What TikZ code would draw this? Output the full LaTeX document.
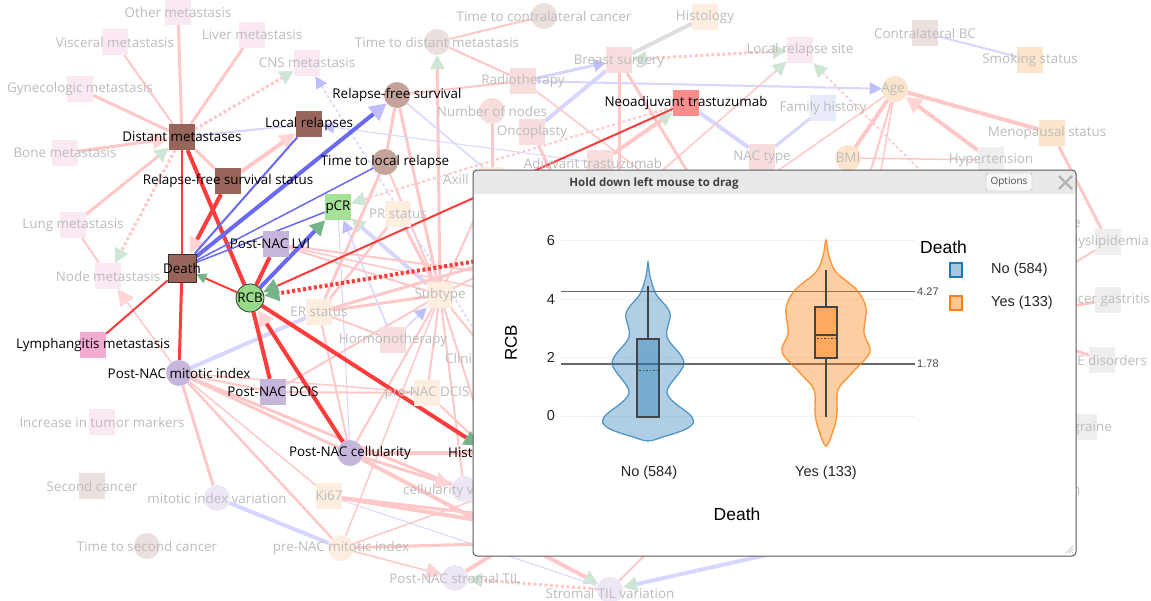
\documentclass[tikz,border=0pt]{standalone}
\usepackage{fontspec}
\setmainfont{Open Sans}
\newfontfamily\plotfont{Liberation Sans}
\usetikzlibrary{arrows.meta,positioning}

\definecolor{brA}{RGB}{152,101,90}
\definecolor{brB}{RGB}{196,163,155}
\definecolor{grA}{RGB}{166,226,150}
\definecolor{grB}{RGB}{150,218,135}
\definecolor{lavA}{RGB}{198,182,220}
\definecolor{pkA}{RGB}{242,172,210}
\definecolor{rdA}{RGB}{250,140,140}
\definecolor{metF}{RGB}{250,232,243}
\definecolor{peF}{RGB}{253,238,224}
\definecolor{lavF}{RGB}{236,230,245}
\definecolor{brF}{RGB}{234,224,222}
\definecolor{rdF}{RGB}{248,221,221}
\definecolor{blF}{RGB}{232,236,250}
\definecolor{gyF}{RGB}{238,238,238}
\definecolor{orF}{RGB}{253,229,205}
\definecolor{txtF}{RGB}{188,188,188}
\definecolor{sRed}{RGB}{255,60,60}
\definecolor{sBlue}{RGB}{105,105,245}
\definecolor{fRed}{RGB}{255,200,200}
\definecolor{fBlue}{RGB}{214,214,255}
\definecolor{fGray}{RGB}{222,222,222}
\definecolor{gDark}{RGB}{118,178,138}
\definecolor{gPale}{RGB}{208,230,212}
\definecolor{pPale}{RGB}{255,212,212}
\definecolor{bPale}{RGB}{190,190,255}
\definecolor{plotBlue}{RGB}{31,119,180}
\definecolor{plotOrange}{RGB}{255,127,14}
\definecolor{boxLine}{RGB}{68,68,68}

\pgfdeclarelayer{edgelayer}
\pgfdeclarelayer{winlayer}
\pgfsetlayers{edgelayer,main,winlayer}

\tikzset{
  sq/.style={rectangle,minimum size=26pt,inner sep=0pt},
  ci/.style={circle,minimum size=26pt,inner sep=0pt},
  act/.style={font=\fontsize{13.4}{15}\selectfont,text=black,inner sep=0pt},
  fad/.style={font=\fontsize{13.4}{15}\selectfont,text=txtF,inner sep=0pt},
  sred/.style={draw=sRed},
  sblue/.style={draw=sBlue},
  fred/.style={draw=fRed},
  fblue/.style={draw=fBlue},
  dotline/.style={dash pattern=on 3pt off 2.5pt},
  ga/.style={-{Triangle[length=14pt,width=14pt,color=gPale]}},
  gboth/.style={{Triangle[length=14pt,width=14pt,color=gPale]}-{Triangle[length=14pt,width=14pt,color=gPale]}},
  gd/.style={-{Triangle[length=15pt,width=15pt,color=gDark]}},
  pa/.style={-{Triangle[length=16pt,width=16pt,color=pPale]}},
  ba/.style={-{Triangle[length=12pt,width=12pt,color=bPale]}},
  ticklab/.style={font=\plotfont\fontsize{14.5}{16}\selectfont,text=black!85,inner sep=0pt},
}

\begin{document}
\begin{tikzpicture}[x=1pt,y=-1pt]
\useasboundingbox (0,0) rectangle (1151,600);

% nodes in focus
\node[sq,fill=brA] (distmet) at (182,137) [label={[act]center:Distant metastases}] {};
\node[sq,fill=brA] (locrel) at (309,124) [label={[act]center:Local relapses}] {};
\node[sq,fill=brA] (rfss) at (228,181) [label={[act]center:Relapse-free survival status}] {};
\node[ci,fill=brB] (rfs) at (397,95) [label={[act]center:Relapse-free survival}] {};
\node[ci,fill=brB] (ttlr) at (385,162) [label={[act]center:Time to local relapse}] {};
\node[sq,fill=grA] (pcr) at (338,207) [label={[act]center:pCR}] {};
\node[sq,fill=brA,draw=black!80,thick,minimum size=28pt] (death) at (182,268) [label={[act]center:Death}] {};
\node[ci,fill=grB,draw=black!80,thick,minimum size=28pt] (rcb) at (250,298) [label={[act]center:RCB}] {};
\node[sq,fill=lavA] (lvi) at (276,244) [label={[act,xshift=-6pt]center:Post-NAC LVI}] {};
\node[sq,fill=pkA] (lymph) at (93,345) [label={[act]center:Lymphangitis metastasis}] {};
\node[ci,fill=lavA] (pnmi) at (179,373) [label={[act]center:Post-NAC mitotic index}] {};
\node[sq,fill=lavA] (dcis) at (273,392) [label={[act]center:Post-NAC DCIS}] {};
\node[ci,fill=lavA] (pncell) at (350,453) [label={[act]center:Post-NAC cellularity}] {};
\node[sq,fill=rdA] (neotz) at (686,103) [label={[act]center:Neoadjuvant trastuzumab}] {};
\node[ci,fill=lavA] (hist) at (490,453) {};
\node[act,anchor=west] (histtxt) at (448,453) {Hist};
\node[sq,fill=peF] (nhid) at (520,254) {};

% faded nodes
\node[sq,fill=metF] (othmet) at (178,12) [label={[fad]center:Other metastasis}] {};
\node[sq,fill=metF] (viscmet) at (115,42) [label={[fad]center:Visceral metastasis}] {};
\node[sq,fill=metF] (livmet) at (252,35) [label={[fad]center:Liver metastasis}] {};
\node[sq,fill=metF] (cnsmet) at (307,63) [label={[fad]center:CNS metastasis}] {};
\node[sq,fill=metF] (gynmet) at (80,89) [label={[fad]center:Gynecologic metastasis}] {};
\node[sq,fill=metF] (bonemet) at (65,153) [label={[fad]center:Bone metastasis}] {};
\node[sq,fill=metF] (lungmet) at (73,225) [label={[fad]center:Lung metastasis}] {};
\node[sq,fill=metF] (nodemet) at (108,276) [label={[fad]center:Node metastasis}] {};
\node[sq,fill=metF] (tumark) at (102,422) [label={[fad]center:Increase in tumor markers}] {};
\node[sq,fill=brF] (seccan) at (92,486) [label={[fad]center:Second cancer}] {};
\node[ci,fill=lavF] (mivar) at (217,498) [label={[fad]center:mitotic index variation}] {};
\node[ci,fill=brF] (ttsc) at (147,546) [label={[fad]center:Time to second cancer}] {};
\node[sq,fill=peF] (ki67) at (329,496) [label={[fad]center:Ki67}] {};
\node[ci,fill=peF] (prenmi) at (341,548) [label={[fad]center:pre-NAC mitotic index}] {};
\node[ci,fill=lavF] (pnstil) at (455,578) [label={[fad]center:Post-NAC stromal TIL}] {};
\node[ci,fill=lavF] (stilvar) at (610,590) [label={[fad,yshift=-3pt]center:Stromal TIL variation}] {};
\node[ci,fill=lavF] (cellvar) at (464,489) {};
\node[fad,anchor=west] (cellvartxt) at (403,491) {cellularity variation};
\node[sq,fill=peF] (prendcis) at (427,393) [label={[fad]center:pre-NAC DCIS}] {};
\node[sq,fill=rdF] (hormo) at (393,340) [label={[fad]center:Hormonotherapy}] {};
\node[sq,fill=peF] (erst) at (319,312) [label={[fad]center:ER status}] {};
\node[sq,fill=peF] (subtype) at (440,295) [label={[fad]center:Subtype}] {};
\node[sq,fill=peF] (prst) at (398,214) [label={[fad]center:PR status}] {};
\node[sq,fill=peF] (clin) at (492,358) {};
\node[fad,anchor=west] (clintxt) at (445,358) {Clini};
\node[sq,fill=peF] (axil) at (492,180) {};
\node[fad,anchor=west] (axiltxt) at (443,179) {Axill};
\node[ci,fill=brF] (ttdm) at (437,42) [label={[fad]center:Time to distant metastasis}] {};
\node[ci,fill=brF] (ttcc) at (544,16) [label={[fad]center:Time to contralateral cancer}] {};
\node[sq,fill=peF] (histology) at (705,17) [label={[fad]center:Histology}] {};
\node[sq,fill=rdF] (breastsurg) at (619,60) [label={[fad,yshift=-1pt]center:Breast surgery}] {};
\node[sq,fill=rdF] (radio) at (523,81) [label={[fad]center:Radiotherapy}] {};
\node[ci,fill=rdF] (nnodes) at (492,111) [label={[fad]center:Number of nodes}] {};
\node[sq,fill=rdF] (oncop) at (532,132) [label={[fad]center:Oncoplasty}] {};
\node[sq,fill=rdF] (adjtz) at (600,163) [label={[fad,xshift=-7pt,yshift=-2pt]center:Adjuvant trastuzumab}] {};
\node[sq,fill=metF] (locsite) at (800,50) [label={[fad]center:Local relapse site}] {};
\node[sq,fill=brF] (contbc) at (925,33) [label={[fad]center:Contralateral BC}] {};
\node[sq,fill=orF] (smoke) at (1030,60) [label={[fad]center:Smoking status}] {};
\node[ci,fill=orF] (age) at (895,89) [label={[fad,xshift=-2pt]center:Age}] {};
\node[sq,fill=blF] (famhist) at (823,108) [label={[fad]center:Family history}] {};
\node[sq,fill=rdF] (nactype) at (762,157) [label={[fad]center:NAC type}] {};
\node[ci,fill=orF] (bmi) at (848,158) [label={[fad]center:BMI}] {};
\node[sq,fill=gyF] (hyper) at (991,160) [label={[fad]center:Hypertension}] {};
\node[sq,fill=orF] (menop) at (1052,133) [label={[fad,xshift=-5pt]center:Menopausal status}] {};
\node[sq,fill=gyF] (dyslip) at (1108,242) {};
\node[fad,anchor=east] (dysliptxt) at (1149,242) {Dyslipidemia};
\node[sq,fill=gyF] (ulcer) at (1108,300) {};
\node[fad,anchor=east] (ulcertxt) at (1150,300) {Ulcer gastritis};
\node[sq,fill=gyF] (edis) at (1102,360) {};
\node[fad,anchor=west] (editxt) at (1077,360) {E disorders};
\node[sq,fill=gyF] (migraine) at (1084,427) {};
\node[fad,anchor=east] (migrainetxt) at (1112,428) {Migraine};
\node[fad,anchor=west] (etxt) at (1073,224) {e};
\node[fad,anchor=west] (ntxt) at (1072,491) {n};

% loose ends that run under the plot window
\coordinate (wk1) at (600,540);
\coordinate (wk2) at (600,528);
\coordinate (wp1) at (620,540);
\coordinate (wp2) at (600,455);
\coordinate (ws1) at (540,525);
\coordinate (ws2) at (780,552);
\coordinate (ws3) at (660,540);
\coordinate (wr1) at (540,215);
\coordinate (wl1) at (580,285);
\coordinate (wl2) at (580,310);
\coordinate (wb1) at (619,220);
\coordinate (wb2) at (705,200);
\coordinate (wo1) at (565,200);
\coordinate (wn1) at (492,220);
\coordinate (wr2) at (650,178);
\coordinate (wls1) at (640,190);
\coordinate (wls2) at (945,195);
\coordinate (wa1) at (862,200);
\coordinate (wa2) at (876,200);
\coordinate (wa3) at (750,190);
\coordinate (wd1) at (1060,272);
\coordinate (wu1) at (1060,308);
\coordinate (we1) at (1060,345);

\begin{pgfonlayer}{edgelayer}
\fill[white] (0,0) rectangle (1151,600);
% faded edges
\draw[fred,line width=3pt] (distmet) -- (othmet);
\draw[fred,line width=2pt] (distmet) -- (viscmet);
\draw[fred,line width=3pt] (distmet) -- (livmet);
\draw[fred,line width=3pt] (distmet) -- (gynmet);
\draw[fred,line width=3pt,pa] (bonemet) -- (distmet);
\draw[fred,line width=3pt,ga] (lungmet) -- (distmet);
\draw[fred,line width=3pt,dotline,ga] (distmet) -- (cnsmet);
\draw[fred,line width=3pt,dotline,ga] (distmet) -- (nodemet);
\draw[fred,line width=2pt] (lungmet) -- (nodemet);
\draw[fred,line width=3pt] (distmet) -- (rfss);
\draw[fred,line width=4pt,pa] (rfss) -- (locrel);
\draw[fblue,line width=2pt] (distmet) -- (locrel);
\draw[fred,line width=1.5pt,pa] (pnmi) -- (nodemet);
\draw[fred,line width=1.5pt] (pnmi) -- (ki67);
\draw[fblue,line width=4pt] (pnmi) -- (erst);
\draw[fred,line width=3pt] (pnmi) -- (mivar);
\draw[fred,line width=2.5pt] (pnmi) -- (prenmi);
\draw[fred,line width=3pt] (pnmi) -- (pncell);
\draw[fred,line width=2pt] (pnmi) -- (dcis);
\draw[fred,line width=3pt] (pnmi) -- (cellvar);
\draw[fred,line width=1.5pt] (pnmi) -- (prendcis);
\draw[fred,line width=3pt,pa] (pncell) -- (cellvar);
\draw[fred,line width=4pt] (pncell) -- (hist);
\draw[fred,line width=2pt] (pncell) -- (subtype);
\draw[fred,line width=2pt] (pncell) -- (erst);
\draw[fblue,line width=1pt] (pncell) -- (pcr);
\draw[fred,line width=4pt,ga] (pncell) -- (stilvar);
\draw[fred,line width=2pt] (dcis) -- (subtype);
\draw[fred,line width=2pt] (dcis) -- (prendcis);
\draw[fred,line width=4pt] (ki67) -- (wk1);
\draw[fred,line width=3pt] (ki67) -- (wk2);
\draw[fblue,line width=1pt] (ki67) -- (stilvar);
\draw[fblue,line width=4pt] (prenmi) -- (mivar);
\draw[fred,line width=1.5pt,pa] (prenmi) -- (pnstil);
\draw[fred,line width=3pt] (prenmi) -- (wp1);
\draw[fred,line width=1.5pt] (prenmi) -- (wp2);
\draw[fred,line width=1.5pt] (prenmi) -- (subtype);
\draw[fred,line width=4pt] (pnstil) -- (ws1);
\draw[fred,line width=3pt,dotline,ga] (stilvar) -- (pnstil);
\draw[fblue,line width=4pt,ga] (ws2) -- (stilvar);
\draw[fred,line width=2pt] (ws3) -- (stilvar);
\draw[fblue,line width=4pt,ga] (subtype) -- (pcr);
\draw[fred,line width=3pt,ga] (subtype) -- (ttdm);
\draw[fred,line width=3pt] (rfs) -- (ttlr);
\draw[fred,line width=3pt] (rfs) -- (subtype);
\draw[fred,line width=2pt] (rfs) -- (radio);
\draw[fblue,line width=1.5pt] (wr1) -- (rfs);
\draw[fred,line width=2pt] (ttlr) -- (subtype);
\draw[fred,line width=3pt] (erst) -- (ttlr);
\draw[fred,line width=2pt,dotline,ga] (neotz) -- (pcr);
\draw[fred,line width=2pt] (ttdm) -- (ttcc);
\draw[fred,line width=2pt] (ttdm) -- (radio);
\draw[fblue,line width=1.5pt,dotline,ba] (clin) -- (cnsmet);
\draw[fblue,line width=1pt,ba] (adjtz) -- (locrel);
\draw[fred,line width=3pt] (erst) -- (subtype);
\draw[fred,line width=2.5pt] (erst) -- (prst);
\draw[fred,line width=2pt] (erst) -- (hormo);
\draw[fred,line width=3pt] (erst) -- (nhid);
\draw[fblue,line width=1.5pt,ba] (hormo) -- (subtype);
\draw[fblue,line width=1.5pt,ba] (hormo) -- (pcr);
\draw[fred,line width=3pt] (prst) -- (subtype);
\draw[fred,line width=2pt] (lvi) -- (subtype);
\draw[fred,line width=2pt] (lvi) -- (wl1);
\draw[fred,line width=1.5pt] (lvi) -- (wl2);
\draw[fred,line width=2pt] (subtype) -- (clin);
\draw[fred,line width=2pt] (subtype) -- (hist);
\draw[fred,line width=2pt] (subtype) -- (cellvar);
\draw[fred,line width=2pt] (subtype) -- (prendcis);
\draw[fred,line width=2pt] (subtype) -- (nhid);
\draw[fred,line width=2pt] (prendcis) -- (hist);
\draw[fred,line width=2pt] (subtype) -- (axil);
\draw[fblue,line width=3pt,ba] (radio) -- (breastsurg);
\draw[fblue,line width=2pt,ba] (radio) -- (age);
\draw[fblue,line width=4pt] (oncop) -- (breastsurg);
\draw[fGray,line width=4pt] (histology) -- (breastsurg);
\draw[fred,line width=3pt,dotline,gboth] (breastsurg) -- (locsite);
\draw[fred,line width=3pt] (breastsurg) -- (wb1);
\draw[fred,line width=3pt] (breastsurg) -- (wb2);
\draw[fblue,line width=4pt] (neotz) -- (nactype);
\draw[fblue,line width=3pt] (nactype) -- (famhist);
\draw[fred,line width=1.5pt,ga] (wls1) -- (locsite);
\draw[fred,line width=1.5pt,dotline,ga] (wls2) -- (locsite);
\draw[fred,line width=4pt] (age) -- (menop);
\draw[fred,line width=4pt,pa] (hyper) -- (age);
\draw[fred,line width=4pt] (age) -- (bmi);
\draw[fred,line width=2pt] (age) -- (wa1);
\draw[fred,line width=1.5pt] (age) -- (wa2);
\draw[fred,line width=1.5pt] (age) -- (wa3);
\draw[fblue,line width=2pt] (contbc) -- (smoke);
\draw[fred,line width=3pt] (menop) -- (dyslip);
\draw[fred,line width=1.5pt] (bmi) -- (hyper);
\draw[fred,line width=1.5pt] (radio) -- (wr2);
\draw[fred,line width=3pt] (nnodes) -- (wn1);
\draw[fred,line width=3pt] (oncop) -- (wo1);
\draw[fred,line width=4pt,ga] (adjtz) -- (neotz);
\draw[fred,line width=2pt] (wd1) -- (dyslip);
\draw[fred,line width=3pt] (wu1) -- (ulcer);
\draw[fred,line width=3pt] (we1) -- (edis);
% edges of the nodes in focus
\draw[sred,line width=2.5pt] (distmet) -- (death);
\draw[sred,line width=4pt] (distmet) -- (rcb);
\draw[sred,line width=4pt,pa] (rfss) -- (death);
\draw[sred,line width=2pt] (death) -- (lymph);
\draw[sred,line width=3pt] (death) -- (pnmi);
\draw[sred,line width=2pt,-{Triangle[length=10pt,width=10pt,color=gDark]}] (rcb) -- (death);
\draw[sred,line width=4pt] (lvi) -- (rcb);
\draw[sred,line width=4pt] (dcis) -- (rcb);
\draw[sred,line width=4pt,pa] (pncell) -- (rcb);
\draw[sred,line width=4pt,gd] (rcb) -- (hist);
\draw[sred,line width=2pt,gd] (neotz) -- (rcb);
\draw[sred,line width=4pt,dotline,gd] (nhid) -- (rcb);
\draw[sblue,line width=4pt,-{Triangle[length=17pt,width=17pt,color=bPale]}] (death) -- (rfs);
\draw[sblue,line width=2pt] (death) -- (locrel);
\draw[sblue,line width=1.5pt] (death) -- (ttlr);
\draw[sblue,line width=1.5pt] (death) -- (pcr);
\draw[sblue,line width=4pt,gd] (rcb) -- (pcr);
\end{pgfonlayer}

\begin{pgfonlayer}{winlayer}
% plot window
\fill[white,rounded corners=4pt] (473,170) rectangle (1076,556);
\fill[gray!17,rounded corners=4pt] (473,170) rectangle (1076,194);
\fill[gray!17] (474,182) rectangle (1075,194);
\node[font=\bfseries\fontsize{11.5}{13}\selectfont,text=black!75] (wintitle) at (654,183) {Hold down left mouse to drag};
\node[draw=gray!65,fill=gray!6,rounded corners=2.5pt,minimum width=46pt,minimum height=18pt,inner sep=0pt,
      font=\fontsize{10}{12}\selectfont,text=black!70] (optbtn) at (1009,182) {Options};
\draw[gray!60,line width=2.2pt] (1059,176) -- (1072,189) (1072,176) -- (1059,189);
\draw[black!65,line width=1pt,rounded corners=4pt] (473,170) rectangle (1076,556);
\draw[gray!60,line width=0.6pt] (1066,553) -- (1073,546) (1069,553) -- (1073,549) (1072,553) -- (1073,552);

% axis, grid and reference lines
\foreach \v in {0,2,4,6} {
  \draw[gray!10,line width=1pt] (561,{416-29.2*\v}) -- (915,{416-29.2*\v});
  \node[ticklab] (tk\v) at (551,{416-29.2*\v}) {\v};
}
\draw[black!60,line width=1.2pt] (561,291.3) -- (915,291.3);
\draw[black!60,line width=1.2pt] (561,364) -- (915,364);
\node[font=\plotfont\fontsize{11}{13}\selectfont,text=black!70,anchor=west,inner sep=0pt] (hi) at (917,292) {4.27};
\node[font=\plotfont\fontsize{11}{13}\selectfont,text=black!70,anchor=west,inner sep=0pt] (lo) at (917,364) {1.78};
\node[font=\plotfont\fontsize{17}{19}\selectfont,rotate=90,inner sep=0pt] (ytitle) at (511,343) {RCB};

% violins
\draw[plotBlue,line width=1.3pt,draw opacity=0.7,fill=plotBlue,fill opacity=0.35]
  plot[smooth cycle,tension=0.55] coordinates {(648,262) (650,276) (656,294) (670,313) (667,337) (684,363)
  (667,393) (692,417) (688,428) (660,438) (648,441) (636,438) (608,428) (604,417) (629,393) (612,363)
  (629,337) (626,313) (640,294) (646,276)};
\draw[plotOrange,line width=1.3pt,draw opacity=0.8,fill=plotOrange,fill opacity=0.38]
  plot[smooth cycle,tension=0.55] coordinates {(826,240) (829,256) (836,272) (857,290) (866,308) (864,333)
  (870,352) (852,373) (838,390) (837,413) (834,428) (826,446) (818,428) (815,413) (814,390) (800,373)
  (782,352) (788,333) (786,308) (795,290) (816,272) (823,256)};

% boxes
\draw[boxLine,line width=1.4pt] (648,286) -- (648,339);
\draw[boxLine,line width=1.4pt,fill=plotBlue,fill opacity=0.4] (637,339) rectangle (659,417);
\draw[boxLine,line width=1pt,dash pattern=on 1.5pt off 2pt] (639,370) -- (658,370);
\draw[boxLine,line width=1.4pt] (826,270) -- (826,307) (826,358) -- (826,417);
\draw[boxLine,line width=1.4pt,fill=plotOrange,fill opacity=0.45] (815,307) rectangle (837,358);
\draw[boxLine,line width=1.4pt] (815,335) -- (837,335);
\draw[boxLine,line width=1pt,dash pattern=on 1.5pt off 2pt] (817,338) -- (836,338);

% category labels and axis title
\node[ticklab] (xno) at (649,473) {No (584)};
\node[ticklab] (xyes) at (826,473) {Yes (133)};
\node[font=\plotfont\fontsize{17.5}{19}\selectfont,inner sep=0pt] (xtitle) at (737,514) {Death};

% legend
\node[font=\plotfont\fontsize{17.5}{19}\selectfont,anchor=west,inner sep=0pt] (legtitle) at (920,247) {Death};
\draw[plotBlue,line width=1.3pt,fill=plotBlue,fill opacity=0.4] (950,263) rectangle (962,277);
\node[ticklab,anchor=west] (legno) at (991,270) {No (584)};
\draw[plotOrange,line width=1.3pt,fill=plotOrange,fill opacity=0.45] (950,296) rectangle (962,310);
\node[ticklab,anchor=west] (legyes) at (991,303) {Yes (133)};
\end{pgfonlayer}
\end{tikzpicture}
\end{document}
